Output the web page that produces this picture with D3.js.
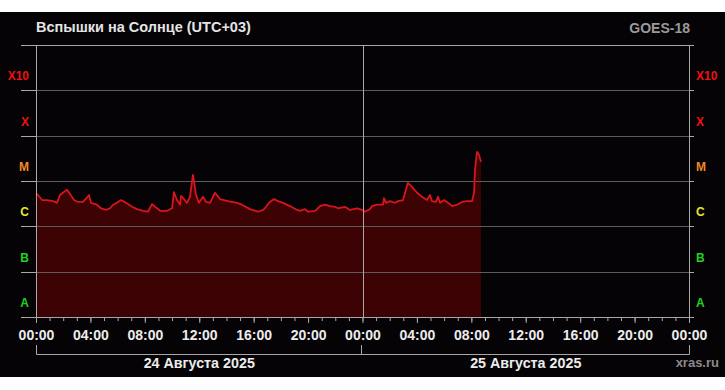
<!DOCTYPE html>
<html>
<head>
<meta charset="utf-8">
<script src="https://cdn.jsdelivr.net/npm/d3@7"></script>
<style>
  body { margin: 0; background: #fff; }
  svg text { font-family: "Liberation Sans", Arial, sans-serif; font-weight: bold; }
</style>
</head>
<body>
<svg id="chart" width="725" height="390"></svg>
<script>
// hours since 24 Aug 00:00 (UTC+03)
var hours = [0.00, 0.15, 0.44, 0.81, 1.25, 1.54, 1.76, 1.98, 2.28, 2.50, 2.79, 3.09, 3.45, 3.90, 4.04,
  4.48, 4.78, 5.15, 5.44, 5.66, 5.95, 6.25, 6.62, 7.06, 7.42, 7.87, 8.23, 8.53, 8.75, 9.12, 9.63,
  10.00, 10.14, 10.36, 10.59, 10.66, 10.88, 11.10, 11.32, 11.54, 11.76, 11.98, 12.28, 12.50, 12.79,
  13.16, 13.53, 14.11, 14.78, 15.14, 15.73, 16.32, 16.69, 16.83, 17.13, 17.49, 17.79, 18.16, 18.67,
  19.19, 19.41, 19.77, 19.99, 20.51, 20.88, 21.24, 21.61, 21.98, 22.20, 22.71, 23.08, 23.60, 23.96,
  24.18, 24.55, 24.70, 25.07, 25.51, 25.58, 25.73, 26.02, 26.39, 26.61, 26.98, 27.34, 27.64, 28.01,
  28.37, 28.74, 28.96, 29.11, 29.40, 29.55, 29.70, 29.99, 30.29, 30.58, 30.95, 31.31, 31.68, 32.05,
  32.20, 32.27, 32.42, 32.56, 32.71];
// X-ray flux, W/m2
var flux = [5.3e-6, 4.9e-6, 3.8e-6, 3.8e-6, 3.6e-6, 3.3e-6, 4.9e-6, 5.5e-6, 6.4e-6, 5.2e-6, 3.8e-6, 3.45e-6, 3.45e-6, 4.9e-6, 3.3e-6,
  3.0e-6, 2.5e-6, 2.3e-6, 2.5e-6, 3.0e-6, 3.3e-6, 3.8e-6, 3.3e-6, 2.7e-6, 2.4e-6, 2.2e-6, 2.1e-6, 3.1e-6, 2.7e-6, 2.2e-6, 2.2e-6,
  2.5e-6, 5.7e-6, 3.8e-6, 3.0e-6, 4.7e-6, 4.0e-6, 3.3e-6, 4.5e-6, 1.37e-5, 4.9e-6, 3.3e-6, 4.5e-6, 3.45e-6, 3.3e-6,
  5.5e-6, 4.0e-6, 3.6e-6, 3.3e-6, 3.0e-6, 2.4e-6, 2.1e-6, 2.3e-6, 2.5e-6, 3.3e-6, 4.0e-6, 3.6e-6, 3.3e-6, 2.8e-6,
  2.3e-6, 2.2e-6, 2.4e-6, 2.1e-6, 2.2e-6, 2.8e-6, 3.0e-6, 2.8e-6, 2.7e-6, 2.5e-6, 2.7e-6, 2.3e-6, 2.5e-6, 2.3e-6,
  2.1e-6, 2.4e-6, 2.8e-6, 3.0e-6, 3.0e-6, 4.2e-6, 3.3e-6, 3.6e-6, 3.3e-6, 3.6e-6, 3.8e-6, 9.1e-6, 7.4e-6, 5.5e-6,
  4.5e-6, 3.8e-6, 4.9e-6, 3.6e-6, 3.45e-6, 4.5e-6, 3.3e-6, 3.8e-6, 3.3e-6, 2.8e-6, 3.0e-6, 3.45e-6, 3.6e-6, 3.6e-6,
  5.5e-6, 1.76e-5, 4.4e-5, 3.8e-5, 2.65e-5];

var classLabels = ["A", "B", "C", "M", "X", "X10"];
var classColors = ["#22d022", "#22d022", "#e6e62a", "#f08a24", "#ee1111", "#ee1111"];
var classBounds = [1e-8, 1e-7, 1e-6, 1e-5, 1e-4, 1e-3, 1e-2];
var majorTicks = [0, 4, 8, 12, 16, 20, 24, 28, 32, 36, 40, 44, 48];
var tickLabels = ["00:00", "04:00", "08:00", "12:00", "16:00", "20:00", "00:00", "04:00", "08:00", "12:00", "16:00", "20:00", "00:00"];
var dayLabels = ["24 Августа 2025", "25 Августа 2025"];
var dayStarts = [0, 24, 48];

var svg = d3.select("#chart");

svg.append("rect")
    .attr("x", 0).attr("y", 12)
    .attr("width", 725).attr("height", 365)
    .attr("fill", "#050305");

var x = d3.scaleLinear().domain([0, 48]).range([36, 689]);
var y = d3.scaleLog().domain([1e-8, 1e-2]).range([317, 45]);

// data area
var area = d3.area()
    .x(function(d, i) { return x(hours[i]); })
    .y0(y(1e-8))
    .y1(function(d) { return y(d); });
var line = d3.line()
    .x(function(d, i) { return x(hours[i]); })
    .y(function(d) { return y(d); });

svg.append("path")
    .datum(flux)
    .attr("d", area)
    .attr("fill", "#3c0204");

// grid lines
svg.append("g").selectAll("line")
    .data(classBounds.slice(1, 6))
    .enter().append("line")
      .attr("x1", 36).attr("x2", 689)
      .attr("y1", function(d) { return Math.round(y(d)) + 0.5; })
      .attr("y2", function(d) { return Math.round(y(d)) + 0.5; })
      .attr("stroke", "#5c5c5c");
svg.append("g").selectAll("line")
    .data(classBounds)
    .enter().append("line")
      .attr("x1", 21).attr("x2", 694)
      .attr("y1", function(d) { return Math.round(y(d)) + 0.5; })
      .attr("y2", function(d) { return Math.round(y(d)) + 0.5; })
      .attr("stroke", "#a8a8a8")
      .attr("stroke-dasharray", function(d) { return (d == 1e-8 || d == 1e-2) ? null : "15,653,5"; });

svg.append("path")
    .datum(flux)
    .attr("d", line)
    .attr("fill", "none")
    .attr("stroke", "#d8141c")
    .attr("stroke-width", 1.8)
    .attr("stroke-linejoin", "round");

// vertical lines
svg.append("g").selectAll("line")
    .data(dayStarts)
    .enter().append("line")
      .attr("x1", function(d) { return Math.round(x(d)) + 0.5; })
      .attr("x2", function(d) { return Math.round(x(d)) + 0.5; })
      .attr("y1", 45).attr("y2", 317)
      .attr("stroke", "#a8a8a8");

// class labels, both sides
[[29, "end"], [696, "start"]].forEach(function(p) {
  svg.append("g").selectAll("text")
      .data(classLabels)
      .enter().append("text")
        .attr("x", p[0])
        .attr("y", function(d, i) { return y(classBounds[i]) - 10; })
        .attr("text-anchor", p[1])
        .attr("font-size", 12)
        .attr("fill", function(d, i) { return classColors[i]; })
        .text(function(d) { return d; });
});

// time axis
var minorAxis = d3.axisBottom(x)
    .tickValues(d3.range(0, 49))
    .tickSize(4)
    .tickFormat("");
var majorAxis = d3.axisBottom(x)
    .tickValues(majorTicks)
    .tickSize(6)
    .tickPadding(5)
    .tickFormat(function(d, i) { return tickLabels[i]; });

var gMinor = svg.append("g").attr("transform", "translate(0,317)").call(minorAxis);
var gMajor = svg.append("g").attr("transform", "translate(0,317)").call(majorAxis);
[gMinor, gMajor].forEach(function(g) {
  g.select(".domain").remove();
  g.selectAll("line").attr("stroke", "#a8a8a8");
});
gMajor.selectAll("text")
    .attr("fill", "#ececec")
    .attr("font-size", 14)
    .attr("font-family", "'Liberation Sans', Arial, sans-serif")
    .attr("dy", "0.85em");

// day brackets
svg.append("path")
    .attr("d", "M36.5,345V354.5H689.5V345M361.5,345V354.5")
    .attr("fill", "none")
    .attr("stroke", "#a8a8a8");

svg.append("g").selectAll("text")
    .data(dayLabels)
    .enter().append("text")
      .attr("x", function(d, i) { return (x(dayStarts[i]) + x(dayStarts[i + 1])) / 2; })
      .attr("y", 368)
      .attr("text-anchor", "middle")
      .attr("font-size", 14.3)
      .attr("fill", "#ececec")
      .text(function(d) { return d; });

// titles
svg.append("text")
    .attr("x", 36).attr("y", 32)
    .attr("font-size", 14.5)
    .attr("fill", "#e4e4e4")
    .text("Вспышки на Солнце (UTC+03)");
svg.append("text")
    .attr("x", 690).attr("y", 33)
    .attr("text-anchor", "end")
    .attr("font-size", 14)
    .attr("fill", "#9a9a9a")
    .text("GOES-18");
svg.append("text")
    .attr("x", 719).attr("y", 367)
    .attr("text-anchor", "end")
    .attr("font-size", 13)
    .attr("fill", "#8a8a8a")
    .text("xras.ru");
</script>
</body>
</html>
